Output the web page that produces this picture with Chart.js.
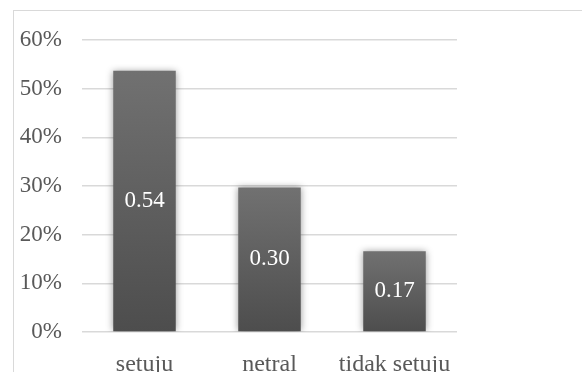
<!DOCTYPE html>
<html>
<head>
<meta charset="utf-8">
<script src="https://cdn.jsdelivr.net/npm/chart.js@4/dist/chart.umd.min.js"></script>
<style>
  html, body { margin: 0; padding: 0; background: #fff; }
  canvas { display: block; }
</style>
</head>
<body>
<canvas id="barChart" width="582" height="372"></canvas>
<script>
// data
var categories = ['setuju', 'netral', 'tidak setuju'];
var shares     = [0.537, 0.297, 0.166];
var yTicks     = [0, 0.1, 0.2, 0.3, 0.4, 0.5, 0.6];

var serif = '"Liberation Serif", "Times New Roman", serif';

// outer frame of the picture
var framePlugin = {
  id: 'frame',
  beforeDraw: function (chart) {
    var ctx = chart.ctx;
    ctx.save();
    ctx.strokeStyle = '#d9d9d9';
    ctx.lineWidth = 1;
    ctx.strokeRect(13.5, 10.5, chart.width + 20, chart.height + 20);
    ctx.restore();
  }
};

// soft shadow around the bars
var shadowPlugin = {
  id: 'barShadow',
  beforeDatasetsDraw: function (chart) {
    var ctx = chart.ctx;
    ctx.save();
    ctx.shadowColor = 'rgba(0,0,0,0.4)';
    ctx.shadowBlur = 7;
    ctx.shadowOffsetX = 0;
    ctx.shadowOffsetY = 0;
  },
  afterDatasetsDraw: function (chart) {
    chart.ctx.restore();
  }
};

// value written in the middle of each bar
var valueLabels = {
  id: 'valueLabels',
  afterDatasetsDraw: function (chart) {
    var ctx = chart.ctx;
    var meta = chart.getDatasetMeta(0);
    ctx.save();
    ctx.shadowColor = 'transparent';
    ctx.fillStyle = '#ffffff';
    ctx.font = '23px ' + serif;
    ctx.textAlign = 'center';
    ctx.textBaseline = 'middle';
    meta.data.forEach(function (bar, i) {
      ctx.fillText(shares[i].toFixed(2), bar.x, (bar.y + bar.base) / 2);
    });
    ctx.restore();
  }
};

function barFill(context) {
  var chart = context.chart;
  if (!chart.chartArea) return '#5f5f5f';
  var y = chart.scales.y;
  var top = y.getPixelForValue(shares[context.dataIndex]);
  var bottom = y.getPixelForValue(0);
  var g = chart.ctx.createLinearGradient(0, top, 0, bottom);
  g.addColorStop(0, '#717171');
  g.addColorStop(1, '#4d4d4d');
  return g;
}

var ctx = document.getElementById('barChart').getContext('2d');
new Chart(ctx, {
  type: 'bar',
  data: {
    labels: categories,
    datasets: [{
      data: shares,
      backgroundColor: barFill,
      borderWidth: 0,
      barPercentage: 0.5,
      categoryPercentage: 1
    }]
  },
  options: {
    responsive: false,
    animation: false,
    layout: { padding: { left: 0, right: 125, top: 40, bottom: 0 } },
    plugins: {
      legend: { display: false },
      tooltip: { enabled: false }
    },
    scales: {
      x: {
        grid: { display: false },
        border: { display: false },
        ticks: {
          color: '#595959',
          font: { family: serif, size: 24 },
          padding: 10,
          maxRotation: 0
        },
        afterFit: function (scale) { scale.height = 40; }
      },
      y: {
        min: 0,
        max: 0.6,
        afterBuildTicks: function (scale) {
          scale.ticks = yTicks.map(function (v) { return { value: v }; });
        },
        grid: { color: '#d9d9d9', lineWidth: 1.5, drawTicks: false },
        border: { display: false },
        ticks: {
          color: '#595959',
          font: { family: serif, size: 23 },
          padding: 20,
          callback: function (v) { return Math.round(v * 100) + '%'; }
        },
        afterFit: function (scale) { scale.width = 82; }
      }
    }
  },
  plugins: [framePlugin, shadowPlugin, valueLabels]
});
</script>
</body>
</html>
